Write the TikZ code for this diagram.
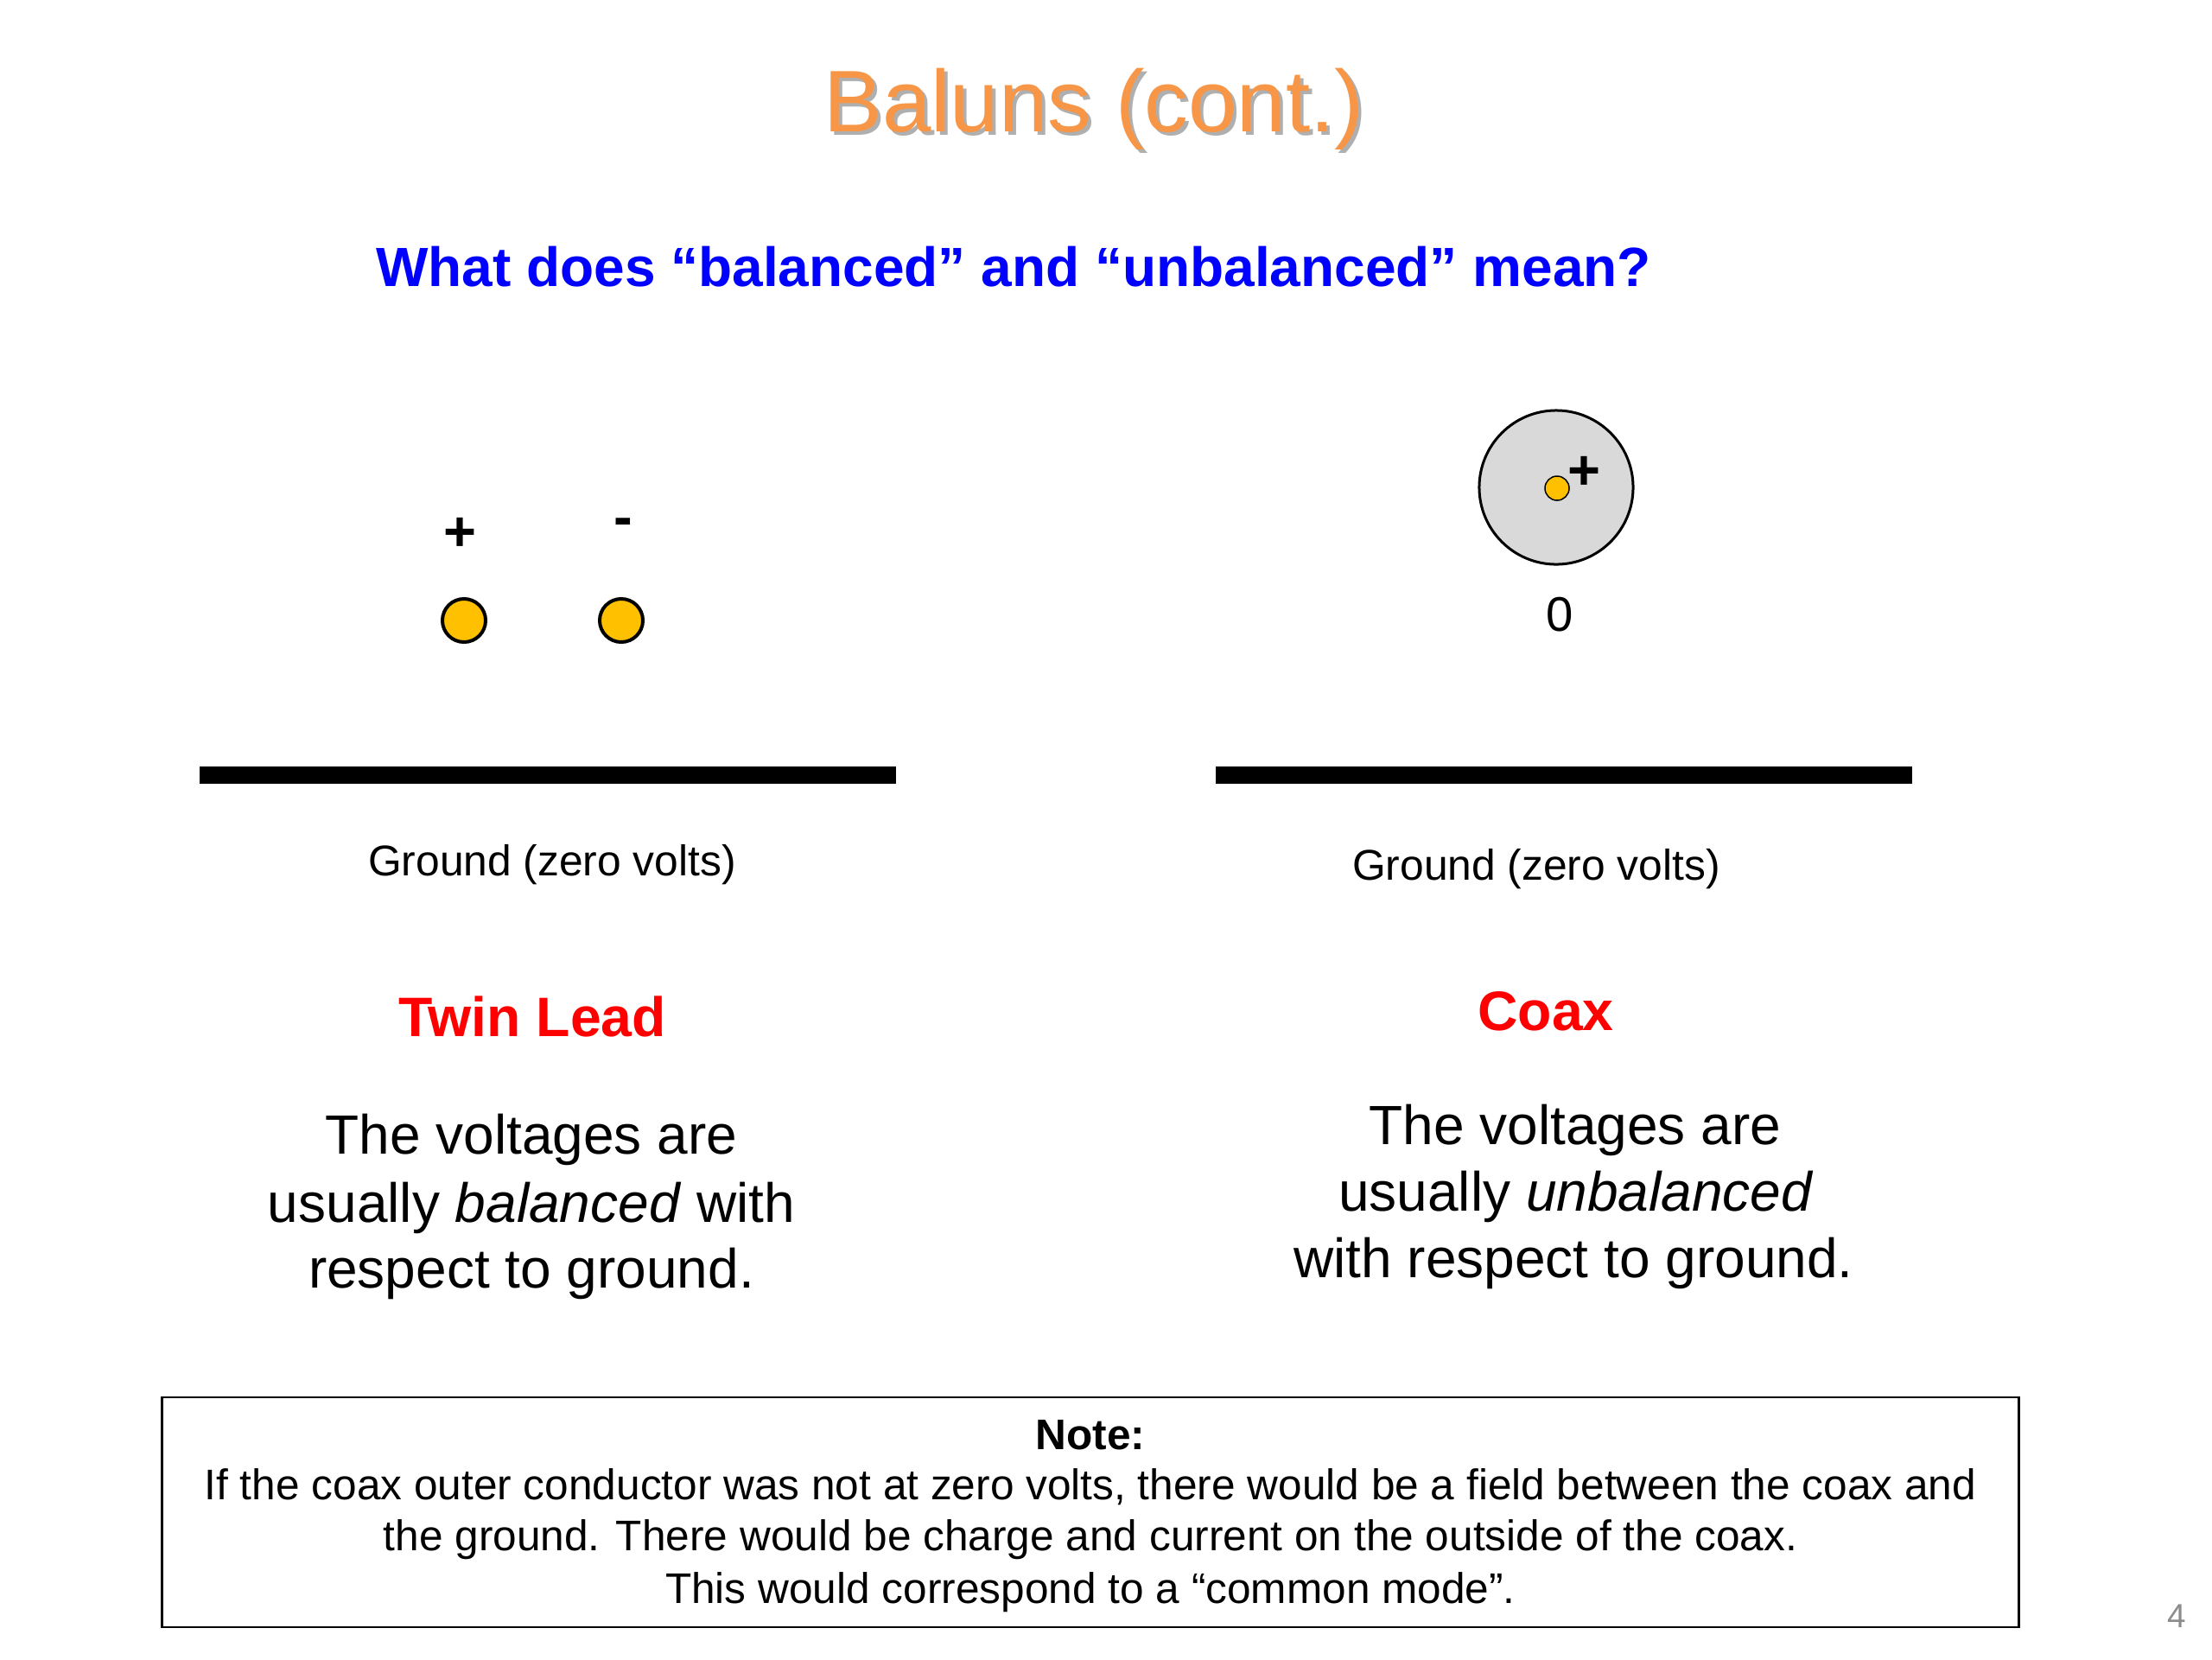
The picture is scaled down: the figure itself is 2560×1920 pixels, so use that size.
\documentclass[tikz,border=0pt]{standalone}
\usepackage{fontspec}
\setmainfont{Liberation Sans}
\definecolor{titleorange}{RGB}{247,150,70}
\definecolor{shadowgrey}{RGB}{175,175,175}
\definecolor{subblue}{RGB}{0,0,255}
\definecolor{headred}{RGB}{255,0,0}
\definecolor{dotgold}{RGB}{255,192,0}
\definecolor{coaxgrey}{RGB}{217,217,217}
\definecolor{pagegrey}{RGB}{140,140,140}
\begin{document}
\begin{tikzpicture}[x=0.01cm,y=-0.01cm,
  txt/.style={anchor=base,inner sep=0pt},
  titletext/.style={txt,font=\fontsize{28.8}{34}\selectfont},
  subtext/.style={txt,font=\fontsize{18.2}{22}\selectfont\bfseries,text=subblue},
  headtext/.style={txt,font=\fontsize{18.3}{22}\selectfont\bfseries,text=headred},
  bodytext/.style={txt,font=\fontsize{18.2}{22}\selectfont},
  groundtext/.style={txt,font=\fontsize{14.15}{17}\selectfont},
  notetext/.style={txt,font=\fontsize{14.1}{17}\selectfont},
  signtext/.style={txt,font=\fontsize{18.5}{22}\selectfont\bfseries},
  golddot/.style={circle,draw=black,line width=0.04cm,fill=dotgold,minimum size=0.5cm,inner sep=0pt},
  innerdot/.style={circle,draw=black,line width=0.015cm,fill=dotgold,minimum size=0.28cm,inner sep=0pt},
  coaxshield/.style={circle,draw=black,line width=0.03cm,fill=coaxgrey,minimum size=1.78cm,inner sep=0pt},
  groundbar/.style={rectangle,fill=black,minimum width=8.05cm,minimum height=0.2cm,inner sep=0pt},
  notebox/.style={rectangle,draw=black,line width=0.025cm,minimum width=21.48cm,minimum height=2.66cm,inner sep=0pt}
]
\useasboundingbox (0,0) rectangle (2560,1920);

% title with shadow
\node[titletext,text=shadowgrey] (titleshadow) at (1270,156) {Baluns (cont.)};
\node[titletext,text=titleorange] (title) at (1266,152) {Baluns (cont.)};

% subtitle
\node[subtext] (subtitle) at (1173,331) {What does “balanced” and “unbalanced” mean?};

% twin lead conductors
\node[golddot] (plusdot) at (537,718) {};
\node[golddot] (minusdot) at (719,718) {};
\node[signtext] (plussign) at (532,637) {+};
\node[signtext] (minussign) at (721,620) {-};

% coax
\node[coaxshield] (shield) at (1801,564) {};
\node[innerdot] (center) at (1802,565) {};
\node[signtext] (coaxplus) at (1833,566) {+};
\node[txt,font=\fontsize{16}{19}\selectfont] (zero) at (1805,730) {0};

% ground bars
\node[groundbar] (groundleft) at (634,897) {};
\node[groundbar] (groundright) at (1810,897) {};
\node[groundtext] (groundlefttext) at (639,1013) {Ground (zero volts)};
\node[groundtext] (groundrighttext) at (1778,1018) {Ground (zero volts)};

% headings
\node[headtext] (twinlead) at (616,1199) {Twin Lead};
\node[headtext] (coax) at (1789,1192) {Coax};

% body texts
\node[bodytext] (tl1) at (615,1335) {The voltages are};
\node[bodytext] (tl2) at (615,1414) {usually \textit{balanced} with};
\node[bodytext] (tl3) at (615,1490) {respect to ground.};
\node[bodytext] (cx1) at (1823,1324) {The voltages are};
\node[bodytext] (cx2) at (1824,1401) {usually \textit{unbalanced}};
\node[bodytext] (cx3) at (1821,1478) {with respect to ground.};

% note box
\node[notebox] (note) at (1262,1750) {};
\node[notetext,font=\fontsize{14.1}{17}\selectfont\bfseries] (notehead) at (1262,1677) {Note:};
\node[notetext] (note1) at (1262,1735) {If the coax outer conductor was not at zero volts, there would be a field between the coax and};
\node[notetext] (note2) at (1262,1794) {the ground. There would be charge and current on the outside of the coax.};
\node[notetext] (note3) at (1262,1855) {This would correspond to a “common mode”.};

% page number
\node[txt,font=\fontsize{11}{13}\selectfont,text=pagegrey] (pagenum) at (2519,1883) {4};
\end{tikzpicture}
\end{document}
